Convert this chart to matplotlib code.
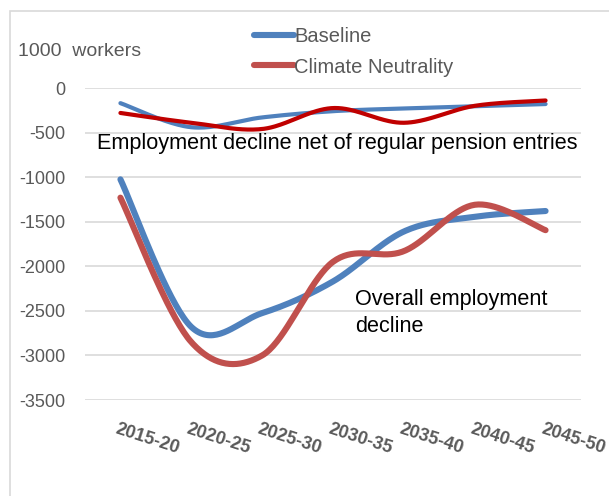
import numpy as np
import matplotlib
matplotlib.use("Agg")
import matplotlib.pyplot as plt
from matplotlib.patches import Rectangle

categories = ["2015-20", "2020-25", "2025-30", "2030-35", "2035-40", "2040-45", "2045-50"]
baseline_net = [-170, -440, -330, -260, -230, -205, -180]
climate_net = [-280, -390, -460, -225, -390, -200, -140]
baseline_overall = [-1025, -2680, -2525, -2170, -1610, -1445, -1380]
climate_overall = [-1230, -2850, -3000, -1950, -1830, -1310, -1595]
yticks = [0, -500, -1000, -1500, -2000, -2500, -3000, -3500]

plt.rcParams['font.family'] = ['Liberation Sans', 'DejaVu Sans']

W, H = 609, 496
fig = plt.figure(figsize=(W / 100, H / 100), dpi=100)
fig.patch.set_facecolor('white')

# chart frame (cropped)
fig.patches.append(Rectangle((10 / W, -0.1), 1.2, (H - 11) / H + 0.1, transform=fig.transFigure,
                             fill=False, edgecolor='#D9D9D9', linewidth=1.2))

ax = fig.add_axes([85 / W, (H - 400) / H, (581 - 85) / W, (400 - 88) / H])
ax.set_xlim(-0.5, len(categories) - 0.5)
ax.set_ylim(-3500, 0)
for s in ax.spines.values():
    s.set_visible(False)
ax.set_yticks(yticks)
ax.set_yticklabels([str(v) for v in yticks], color='#595959', fontsize=13)
ax.tick_params(axis='y', length=0, pad=14)
ax.grid(axis='y', color='#D9D9D9', linewidth=1.2)
ax.set_axisbelow(True)
ax.set_xticks(range(len(categories)))
ax.set_xticklabels([])
ax.tick_params(axis='x', length=0)


def smooth(vals, n=40):
    p = np.array(vals, dtype=float)
    x = np.arange(len(p), dtype=float)
    pts = np.column_stack([x, p])
    ext = np.vstack([pts[0], pts, pts[-1]])
    out = []
    for i in range(len(pts) - 1):
        p0, p1, p2, p3 = ext[i], ext[i + 1], ext[i + 2], ext[i + 3]
        c1 = p1 + (p2 - p0) / 6
        c2 = p2 - (p3 - p1) / 6
        t = np.linspace(0, 1, n)[:, None]
        seg = (1 - t) ** 3 * p1 + 3 * (1 - t) ** 2 * t * c1 + 3 * (1 - t) * t ** 2 * c2 + t ** 3 * p2
        out.append(seg if i == 0 else seg[1:])
    out = np.vstack(out)
    return out[:, 0], out[:, 1]


blue = '#4F81BD'
red_light = '#C0504D'
red_dark = '#C00000'

lb, = ax.plot(*smooth(baseline_overall), color=blue, lw=4.4, solid_capstyle='round', clip_on=False, label='Baseline')
lc, = ax.plot(*smooth(climate_overall), color=red_light, lw=4.4, solid_capstyle='round', clip_on=False, label='Climate Neutrality')
ax.plot(*smooth(baseline_net), color=blue, lw=3.0, solid_capstyle='round', clip_on=False)
ax.plot(*smooth(climate_net), color=red_dark, lw=3.0, solid_capstyle='round', clip_on=False)

leg = fig.legend(handles=[lb, lc], loc='center left', bbox_to_anchor=(244 / W, 1 - 52 / H),
                 frameon=False, fontsize=14.5, handlelength=2.0, handletextpad=0.0,
                 labelspacing=0.55, borderpad=0)
for t in leg.get_texts():
    t.set_color('#595959')

# x tick labels rotated
for i, c in enumerate(categories):
    ax.annotate(c, xy=(i, -3500), xytext=(-3, -21), textcoords='offset points',
                rotation=-18, rotation_mode='anchor', ha='left', va='center',
                fontsize=13, fontweight='bold', color='#595959', annotation_clip=False)

fig.text(18 / W, 1 - 52 / H, "1000  workers", fontsize=14, color='#595959', va='center', ha='left')
fig.text(97 / W, 1 - 143 / H, "Employment decline net of regular pension entries",
         fontsize=15.6, color='black', va='center', ha='left')
fig.text(355 / W, 1 - 300 / H, "Overall employment", fontsize=15.6, color='black', va='center', ha='left')
fig.text(355 / W, 1 - 326 / H, "decline", fontsize=15.6, color='black', va='center', ha='left')

fig.savefig("out.png", dpi=100)
